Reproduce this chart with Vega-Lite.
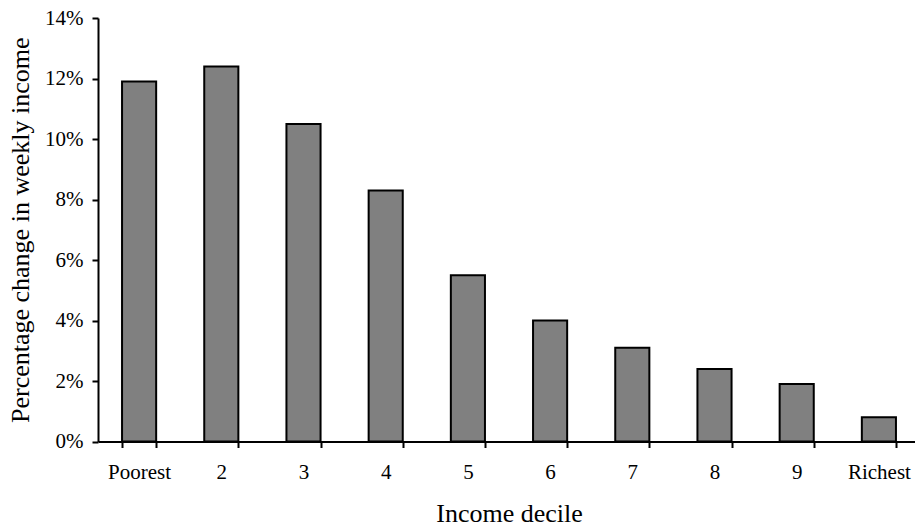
{
  "$schema": "https://vega.github.io/schema/vega-lite/v6.json",
  "autosize": "none",
  "padding": {"left": 98, "top": 18, "right": 0, "bottom": 88},
  "width": 822,
  "height": 423.5,
  "background": "white",
  "config": {
    "view": {"stroke": null},
    "font": "Liberation Serif"
  },
  "data": {
    "values": [
      {"decile": "Poorest", "change": 0.119},
      {"decile": "2", "change": 0.124},
      {"decile": "3", "change": 0.105},
      {"decile": "4", "change": 0.083},
      {"decile": "5", "change": 0.055},
      {"decile": "6", "change": 0.040},
      {"decile": "7", "change": 0.031},
      {"decile": "8", "change": 0.024},
      {"decile": "9", "change": 0.019},
      {"decile": "Richest", "change": 0.008}
    ]
  },
  "mark": {"type": "bar", "color": "#808080", "stroke": "black", "strokeWidth": 2},
  "encoding": {
    "x": {
      "field": "decile",
      "type": "nominal",
      "sort": null,
      "scale": {"paddingInner": 0.585, "paddingOuter": 0.2925},
      "axis": {
        "title": "Income decile",
        "titleFont": "Liberation Serif",
        "titleFontSize": 26,
        "titleFontWeight": "normal",
        "titleColor": "black",
        "titlePadding": 18,
        "labelAngle": 0,
        "labelFont": "Liberation Serif",
        "labelFontSize": 21,
        "labelColor": "black",
        "labelPadding": 14,
        "tickBand": "extent",
        "tickColor": "black",
        "tickSize": 6,
        "tickWidth": 2,
        "domainColor": "black",
        "domainWidth": 2
      }
    },
    "y": {
      "field": "change",
      "type": "quantitative",
      "scale": {"domain": [0, 0.14], "nice": false},
      "axis": {
        "title": "Percentage change in weekly income",
        "format": ".0%",
        "values": [0, 0.02, 0.04, 0.06, 0.08, 0.1, 0.12, 0.14],
        "grid": false,
        "titleFont": "Liberation Serif",
        "titleFontSize": 26,
        "titleFontWeight": "normal",
        "titleColor": "black",
        "titlePadding": 11,
        "labelFont": "Liberation Serif",
        "labelFontSize": 21,
        "labelColor": "black",
        "labelPadding": 9,
        "tickColor": "black",
        "tickSize": 6,
        "tickWidth": 2,
        "domainColor": "black",
        "domainWidth": 2
      }
    }
  }
}
